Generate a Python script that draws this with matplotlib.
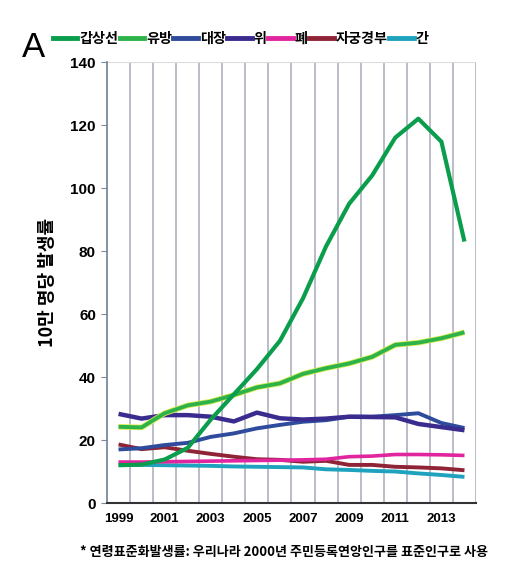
import matplotlib
matplotlib.use("Agg")
import matplotlib.pyplot as plt
import matplotlib.patheffects as pe

plt.rcParams['font.family'] = ['Noto Sans CJK KR', 'DejaVu Sans']

years = list(range(1999, 2015))
thyroid = [12, 12.2, 13.8, 17.5, 26.5, 34.5, 42.5, 51.5, 65, 81.5, 95, 104, 116, 122, 114.7, 83]
breast = [24.2, 24, 28.5, 31, 32.2, 34.3, 36.7, 38, 41, 42.8, 44.3, 46.4, 50.2, 50.9, 52.3, 54.2]
colorectal = [17, 17.4, 18.4, 19.1, 21, 22.1, 23.7, 24.8, 25.8, 26.3, 27.4, 27.4, 27.9, 28.5, 25.4, 23.8]
stomach = [28.3, 26.8, 27.9, 27.9, 27.4, 25.9, 28.7, 26.9, 26.5, 26.8, 27.4, 27.3, 27.2, 25.1, 24.1, 23.1]
lung = [13, 13, 13.1, 13.2, 13.3, 13.4, 13.5, 13.6, 13.7, 13.9, 14.7, 14.9, 15.4, 15.4, 15.3, 15.1]
cervical = [18.6, 17.1, 17.7, 16.6, 15.6, 14.7, 13.9, 13.7, 13.1, 13.4, 12.1, 12.1, 11.5, 11.3, 11, 10.4]
liver = [12.1, 12.1, 12.0, 11.9, 11.8, 11.6, 11.5, 11.4, 11.3, 10.7, 10.5, 10.2, 10.0, 9.4, 8.9, 8.3]

names = ['갑상선', '유방', '대장', '위', '폐', '자궁경부', '간']
series = [thyroid, breast, colorectal, stomach, lung, cervical, liver]
colors = ['#0a9e4c', '#2db34a', '#2e4b9c', '#3a2c8e', '#e0259e', '#8e2436', '#1ea2bd']
widths = [3.0, 2.8, 2.8, 3.2, 2.6, 2.8, 2.8]
ytick_vals = [0, 20, 40, 60, 80, 100, 120, 140]
xtick_labels = [1999, 2001, 2003, 2005, 2007, 2009, 2011, 2013]

fig = plt.figure(figsize=(5.11, 5.72), dpi=100)
ax = fig.add_axes([0.2094, 0.1206, 0.7221, 0.771])

for yv in range(1999, 2015):
    ax.axvline(yv + 0.5, color='#b4b6c4', lw=1.3, zorder=0)
ax.axhline(140, color='#dddddd', lw=0.8, zorder=0)

order = [6, 5, 4, 2, 3, 1, 0]
for i in order:
    kw = {}
    if i == 1:
        kw['path_effects'] = [pe.Stroke(linewidth=widths[i] + 1.2, foreground='#d8ec50'), pe.Normal()]
    ax.plot(years, series[i], color=colors[i], lw=widths[i], solid_capstyle='butt', zorder=3, **kw)

ax.set_xlim(1998.5, 2014.5)
ax.set_ylim(0, 140)
ax.set_yticks(ytick_vals)
ax.set_yticklabels([str(v) for v in ytick_vals], fontsize=11, fontweight='bold',
                   family=['Liberation Sans', 'DejaVu Sans'])
ax.set_xticks(xtick_labels)
ax.set_xticklabels([str(v) for v in xtick_labels], fontsize=9.5, fontweight='bold',
                   family=['Liberation Sans', 'DejaVu Sans'])
ax.tick_params(axis='x', length=0, pad=7)
ax.tick_params(axis='y', length=4, direction='out', color='#7a8a99', pad=4)

for s in ['top', 'right']:
    ax.spines[s].set_visible(False)
ax.spines['left'].set_color('#7a8a99')
ax.spines['left'].set_linewidth(1.3)
ax.spines['bottom'].set_color('#333333')
ax.spines['bottom'].set_linewidth(1.5)

ax.set_ylabel('10만 명당 발생률', fontsize=13, fontweight='bold', labelpad=10)

handles = [plt.Line2D([0], [0], color=colors[i], lw=3.5) for i in range(7)]
fig.legend(handles, names, loc='center left', bbox_to_anchor=(0.078, 0.932), ncol=7,
           frameon=False, handlelength=1.75, handletextpad=0.12, columnspacing=0.1,
           prop={'size': 10.2, 'weight': 'bold'})
fig.text(0.042, 0.9, 'A', fontsize=25, family=['Liberation Sans', 'DejaVu Sans'])

fig.text(0.555, 0.035, '* 연령표준화발생률: 우리나라 2000년 주민등록연앙인구를 표준인구로 사용',
         fontsize=9.4, fontweight='bold', ha='center', va='center')

fig.savefig('out.png', dpi=100)
